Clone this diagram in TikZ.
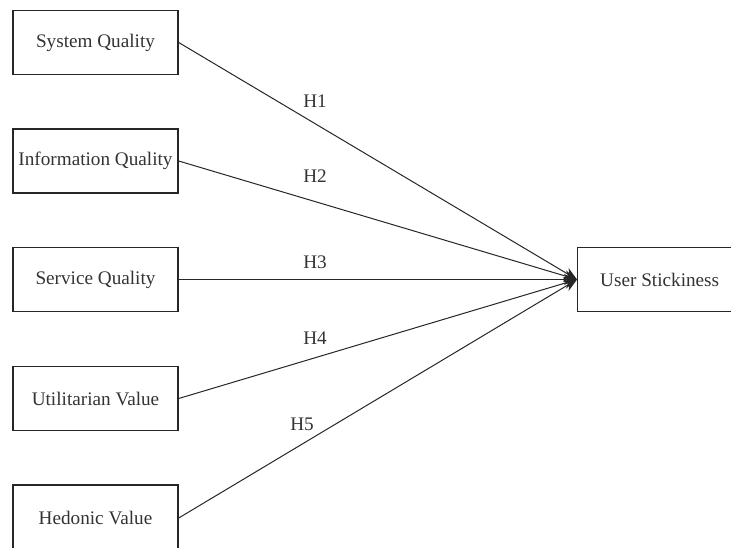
\documentclass[tikz,border=0pt]{standalone}
\usepackage{fontspec}
\setmainfont{Liberation Serif}
\usetikzlibrary{arrows.meta}
\begin{document}
\begin{tikzpicture}[x=1pt,y=-1pt,
  box/.style={draw=black!85,line width=1.4pt,minimum width=165pt,minimum height=64pt,inner sep=0pt,font=\fontsize{19.2}{22}\selectfont,text=black!80},
  link/.style={draw=black!85,line width=1pt,-{Stealth[length=13pt,width=11pt]}},
  hlab/.style={font=\fontsize{19.2}{22}\selectfont,text=black!80}]
\useasboundingbox (0,0) rectangle (731,547);
\begin{scope}
\clip (0,0) rectangle (731,547);
\node[box] (sq) at (95.5,42.5) {System Quality};
\node[box] (iq) at (95.5,161) {Information Quality};
\node[box] (svq) at (95.5,279.5) {Service Quality};
\node[box] (uv) at (95.5,398.5) {Utilitarian Value};
\node[box,minimum height=66pt] (hv) at (95.5,518) {Hedonic Value};
\node[box,minimum width=165pt,anchor=west] (us) at (577,279.5) {\hspace*{-1pt}User Stickiness};
\end{scope}
\draw[link] (sq.east) -- (us.west);
\draw[link] (iq.east) -- (us.west);
\draw[link] (svq.east) -- (us.west);
\draw[link] (uv.east) -- (us.west);
\draw[link] (hv.east) -- (us.west);
\node[hlab] (h1) at (315,101) {H1};
\node[hlab] (h2) at (315,176) {H2};
\node[hlab] (h3) at (315,262) {H3};
\node[hlab] (h4) at (315,338) {H4};
\node[hlab] (h5) at (302,424) {H5};
\end{tikzpicture}
\end{document}
